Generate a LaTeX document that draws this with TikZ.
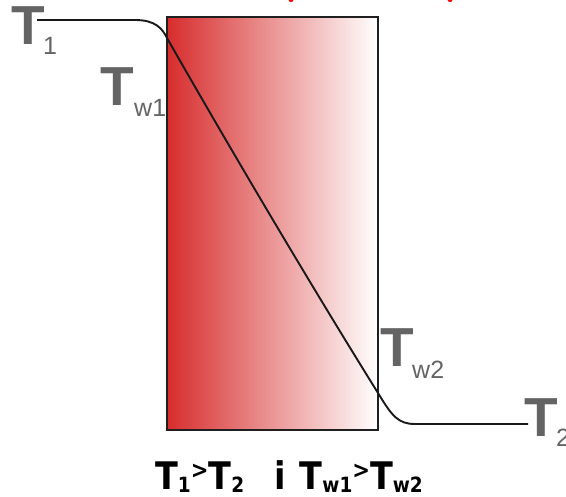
\documentclass[tikz,border=0pt]{standalone}
\usepackage{fontspec}
\setmainfont{Liberation Sans}
\newfontfamily\eqfont{DejaVu Sans}
\definecolor{wallred}{RGB}{215,45,45}
\definecolor{labgray}{RGB}{100,100,100}
\newcommand\bigT{\bfseries\fontsize{55}{55}\selectfont T}
\newcommand\labsub[1]{\fontsize{25}{25}\selectfont #1}
\newcommand\eqsub[1]{\raisebox{-3pt}{\fontsize{21}{21}\selectfont #1}}
\newcommand\eqgt{\hspace{0pt}\raisebox{11pt}{\fontsize{24}{24}\selectfont >}\hspace{0pt}}
\begin{document}
\begin{tikzpicture}[x=1pt,y=-1pt,
  lab/.style={anchor=base west,inner sep=0pt,text=labgray},
  curve/.style={line width=1.9pt,black!90},
  wall/.style={draw=black!88,line width=2.2pt,left color=wallred,right color=white}]
\useasboundingbox (0,0) rectangle (566,497);
% red fragments of cut-off title
\fill[red] (291,0) ellipse [x radius=2.5, y radius=2];
\fill[red] (450,0) ellipse [x radius=2.5, y radius=2];
% wall
\path[wall] (167,17) rectangle (378,430);
% temperature profile
\coordinate (a) at (37,20);
\coordinate (b) at (135,20);
\coordinate (c) at (167,38);
\coordinate (d) at (378,393);
\coordinate (e) at (415,424);
\coordinate (f) at (528,424);
\draw[curve] (a) -- (b) .. controls (155,20) and (162,28) .. (c)
  .. controls (240,166) and (320,300) .. (d)
  .. controls (392,416) and (398,424) .. (e) -- (f);
% labels
\node[lab] (t1) at (11,45) {\bigT};
\node[lab] (t1s) at (43,55) {\labsub{1}};
\node[lab] (tw1) at (100,106) {\bigT};
\node[lab] (tw1s) at (134,117) {\labsub{w1}};
\node[lab] (tw2) at (380,367) {\bigT};
\node[lab] (tw2s) at (412,379) {\labsub{w2}};
\node[lab] (t2) at (524,437) {\bigT};
\node[lab] (t2s) at (556,447) {\labsub{2}};
% relation
\node[anchor=base,inner sep=0pt] (rel) at (289,490)
  {\scalebox{0.88}[1]{\eqfont\bfseries\fontsize{38}{38}\selectfont T\eqsub{1}\eqgt T\eqsub{2}\hspace{34pt}i\hspace{16pt}T\eqsub{w1}\eqgt T\eqsub{w2}}};
\end{tikzpicture}
\end{document}
